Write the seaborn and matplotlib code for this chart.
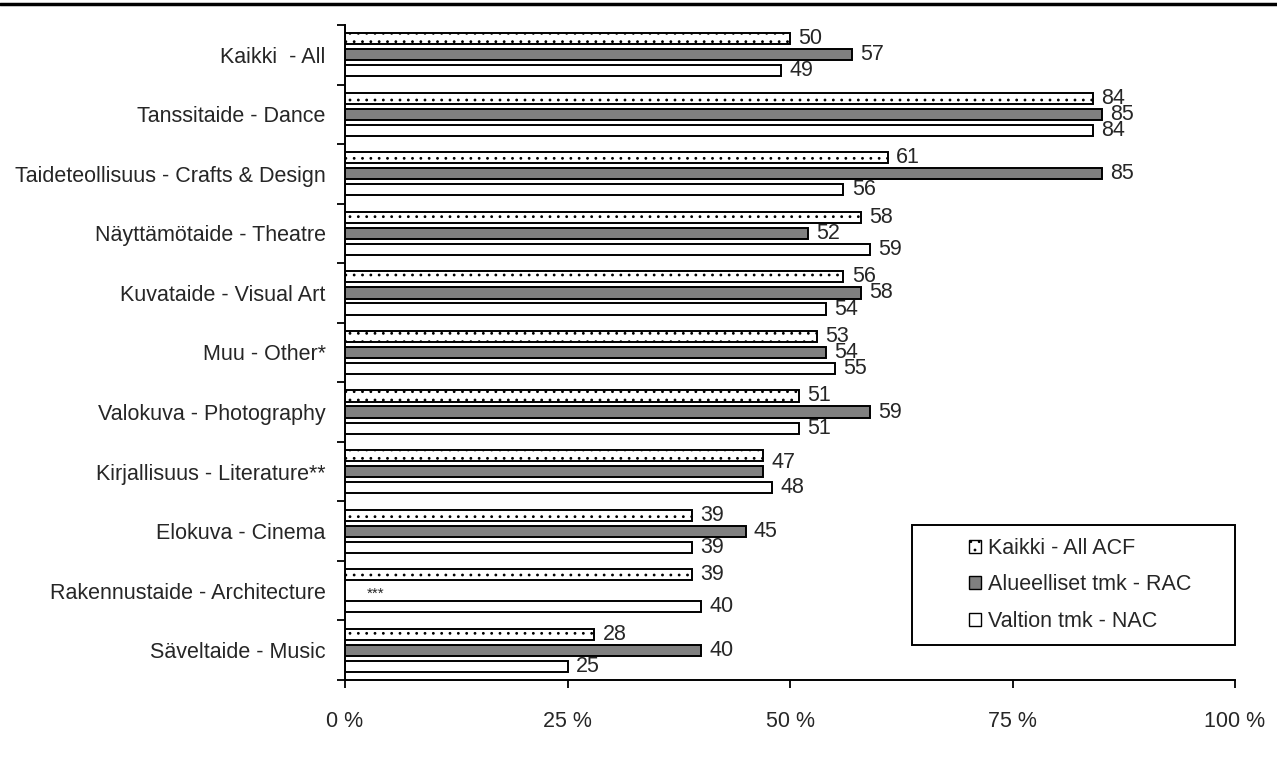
import numpy as np
import pandas as pd
import matplotlib
matplotlib.use("Agg")
import matplotlib.pyplot as plt
from matplotlib.patches import Rectangle
from matplotlib.lines import Line2D
import seaborn as sns

categories = [
    "Kaikki  - All",
    "Tanssitaide - Dance",
    "Taideteollisuus - Crafts & Design",
    "Näyttämötaide - Theatre",
    "Kuvataide - Visual Art",
    "Muu - Other*",
    "Valokuva - Photography",
    "Kirjallisuus - Literature**",
    "Elokuva - Cinema",
    "Rakennustaide - Architecture",
    "Säveltaide - Music",
]
series_names = ["Kaikki - All ACF", "Alueelliset tmk - RAC", "Valtion tmk - NAC"]
acf = [50, 84, 61, 58, 56, 53, 51, 47, 39, 39, 28]
rac = [57, 85, 85, 52, 58, 54, 59, 47, 45, np.nan, 40]
nac = [49, 84, 56, 59, 54, 55, 51, 48, 39, 40, 25]
xticks = [0, 25, 50, 75, 100]
xticklabels = ["0 %", "25 %", "50 %", "75 %", "100 %"]

sns.set_theme(style="white")
plt.rcParams["font.family"] = ["Liberation Sans", "DejaVu Sans"]
plt.rcParams["hatch.linewidth"] = 0.8
plt.rcParams["hatch.color"] = "black"

FS = 15.5

df = pd.DataFrame({
    "category": categories * 3,
    "series": [series_names[0]] * 11 + [series_names[1]] * 11 + [series_names[2]] * 11,
    "value": acf + rac + nac,
})

fig = plt.figure(figsize=(12.77, 7.63), dpi=100)
ax = fig.add_axes([345 / 1277, 1 - 680 / 763, 890 / 1277, 655 / 763])

palette = {series_names[0]: "white", series_names[1]: "#808080", series_names[2]: "white"}
sns.barplot(data=df, y="category", x="value", hue="series", order=categories,
            hue_order=series_names, palette=palette, orient="h", width=0.81,
            gap=0.31, edgecolor="black", linewidth=1.4, saturation=1,
            legend=False, ax=ax, err_kws={"linewidth": 0})

hatches = ["..", "", ""]
for cont, h in zip(ax.containers, hatches):
    for bar in cont:
        bar.set_hatch(h)

# value labels; when ACF and RAC share a value, one label sits between them
acf_c, rac_c, nac_c = ax.containers[0], ax.containers[1], ax.containers[2]
for bar in nac_c:
    w = bar.get_width()
    ax.annotate(f"{w:.0f}", (w, bar.get_y() + bar.get_height() / 2), xytext=(6, 0),
                textcoords="offset points", ha="left", va="center", fontsize=FS)
rac_by_y = {}
for bar in rac_c:
    rac_by_y[round(bar.get_y() + bar.get_height() / 2 - 0.27, 3)] = bar
for bar in acf_c:
    w = bar.get_width()
    yc = bar.get_y() + bar.get_height() / 2
    rb = rac_by_y.pop(round(yc, 3), None)
    if rb is not None and abs(rb.get_width() - w) < 1e-9:
        yc = yc + 0.12
    elif rb is not None:
        rw = rb.get_width()
        ax.annotate(f"{rw:.0f}", (rw, rb.get_y() + rb.get_height() / 2), xytext=(6, 0),
                    textcoords="offset points", ha="left", va="center", fontsize=FS)
    ax.annotate(f"{w:.0f}", (w, yc), xytext=(6, 0),
                textcoords="offset points", ha="left", va="center", fontsize=FS)
for yk, rb in rac_by_y.items():
    rw = rb.get_width()
    ax.annotate(f"{rw:.0f}", (rw, rb.get_y() + rb.get_height() / 2), xytext=(6, 0),
                textcoords="offset points", ha="left", va="center", fontsize=FS)

ax.text(2.4, 9.05, "***", fontsize=11, ha="left", va="center")

ax.set_xlim(0, 100)
ax.set_ylim(10.5, -0.5)
ax.set_xticks(xticks)
ax.set_xticklabels(xticklabels, fontsize=FS)
ax.set_yticks(np.arange(len(categories)))
ax.set_yticklabels(categories, fontsize=FS)
ax.set_yticks(np.arange(-0.5, len(categories), 1), minor=True)
ax.tick_params(axis="y", which="major", length=0, pad=14)
ax.tick_params(axis="y", which="minor", length=6, width=1.3, color="black", direction="out", left=True)
ax.tick_params(axis="x", which="major", length=6, width=1.3, color="black", direction="out", bottom=True, pad=16)
ax.set_xlabel("")
ax.set_ylabel("")
for s in ["top", "right"]:
    ax.spines[s].set_visible(False)
for s in ["left", "bottom"]:
    ax.spines[s].set_color("black")
    ax.spines[s].set_linewidth(1.4)

# legend
x0 = (912 - 345) / 890
y0 = (680 - 645) / 655
ax.add_patch(Rectangle((x0, y0), 1 - x0, (645 - 525) / 655, transform=ax.transAxes,
                       facecolor="white", edgecolor="black", linewidth=1.4, zorder=5,
                       clip_on=False))
handles = [
    Rectangle((0, 0), 1, 1, facecolor="white", edgecolor="black", hatch="..", linewidth=1),
    Rectangle((0, 0), 1, 1, facecolor="#808080", edgecolor="black", linewidth=1),
    Rectangle((0, 0), 1, 1, facecolor="white", edgecolor="black", linewidth=1),
]
leg = ax.legend(handles, series_names, loc="center left",
                bbox_to_anchor=((969 - 345) / 890, (680 - 585) / 655),
                frameon=False, fontsize=FS, handlelength=0.55, handleheight=0.55,
                handletextpad=0.35, labelspacing=0.72, borderpad=0, borderaxespad=0)
leg.set_zorder(6)

fig.add_artist(Line2D([0, 1], [1 - 4 / 763, 1 - 4 / 763], color="black", linewidth=2.5,
                      transform=fig.transFigure))

fig.savefig("out.png", dpi=100)
